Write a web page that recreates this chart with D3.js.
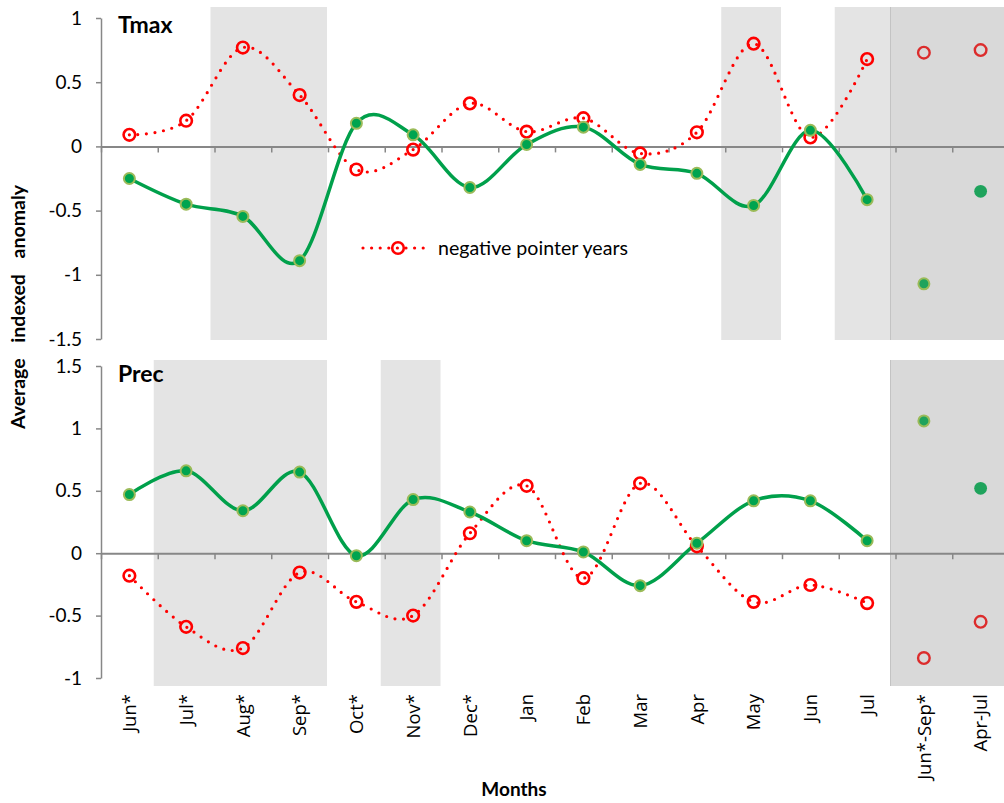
<!DOCTYPE html>
<html>
<head>
<meta charset="utf-8">
<script src="https://cdn.jsdelivr.net/npm/d3@7"></script>
<style>
  body { margin: 0; background: #fff; }
  svg { display: block; }
  text { font-family: Lato, "Open Sans", sans-serif; fill: #000; }
</style>
</head>
<body>
<svg id="chart" width="1004" height="803"></svg>
<script>
// Monthly categories (previous-year months marked with *) and the two seasonal summaries
const months = ["Jun*", "Jul*", "Aug*", "Sep*", "Oct*", "Nov*", "Dec*", "Jan", "Feb", "Mar", "Apr", "May", "Jun", "Jul"];
const periods = ["Jun*-Sep*", "Apr-Jul"];
const categories = months.concat(periods);

// Tmax: average indexed anomaly, all years (green) and negative pointer years (red)
const tmaxAll = [-0.25, -0.45, -0.545, -0.89, 0.18, 0.09, -0.32, 0.015, 0.15, -0.14, -0.21, -0.46, 0.125, -0.415];
const tmaxNegative = [0.09, 0.20, 0.77, 0.40, -0.18, -0.025, 0.335, 0.115, 0.22, -0.055, 0.11, 0.80, 0.07, 0.68];
const tmaxPeriodAll = [-1.07, -0.35];
const tmaxPeriodNegative = [0.73, 0.75];

// Prec: average indexed anomaly, all years (green) and negative pointer years (red)
const precAll = [0.47, 0.66, 0.34, 0.65, -0.02, 0.43, 0.33, 0.10, 0.01, -0.26, 0.08, 0.42, 0.42, 0.10];
const precNegative = [-0.18, -0.59, -0.76, -0.155, -0.39, -0.50, 0.16, 0.54, -0.20, 0.56, 0.055, -0.39, -0.255, -0.40];
const precPeriodAll = [1.06, 0.52];
const precPeriodNegative = [-0.84, -0.55];

// Axis ticks
const tmaxTicks = [-1.5, -1, -0.5, 0, 0.5, 1];
const precTicks = [-1, -0.5, 0, 0.5, 1, 1.5];

// Shaded month ranges (first, last)
const tmaxShading = [["Aug*", "Sep*"], ["May", "May"], ["Jul", "Jul"]];
const precShading = [["Jul*", "Sep*"], ["Nov*", "Nov*"]];

const legendLabel = "negative pointer years";
const yTitleWords = ["Average", "indexed", "anomaly"];

const svg = d3.select("#chart");

const x = d3.scaleBand().domain(categories).range([101, 101 + 16 * 56.75]).padding(0);
const bw = x.bandwidth();
const cx = c => x(c) + bw / 2;
const boundary = d3.scaleLinear().domain([0, categories.length]).range(x.range());

const GREEN_LINE = "#00a04b";
const GREEN_FILL = "#00a44f";
const GREEN_EDGE = "#9bbb59";
const RED = "#ff0000";
const RED_PERIOD = "#dc2c2c";
const AXIS = "#878787";

function drawPanel(cfg) {
  const y = d3.scaleLinear().domain(cfg.domain).range(cfg.range);
  const g = svg.append("g");

  // shaded month bands
  g.selectAll("rect.band")
    .data(cfg.shading)
    .join("rect")
    .attr("class", "band")
    .attr("x", d => x(d[0]) - 4)
    .attr("width", d => x(d[1]) + bw - 1 - (x(d[0]) - 4))
    .attr("y", cfg.bandTop)
    .attr("height", cfg.bandBottom - cfg.bandTop)
    .attr("fill", "#e4e4e4");

  // seasonal summary band
  const sx = x(periods[0]) - 5;
  g.append("rect")
    .attr("x", sx)
    .attr("width", 1004 - sx + 10)
    .attr("y", cfg.bandTop)
    .attr("height", cfg.bandBottom - cfg.bandTop)
    .attr("fill", "#d9d9d9");
  g.append("line")
    .attr("x1", sx).attr("x2", sx)
    .attr("y1", cfg.bandTop).attr("y2", cfg.bandBottom)
    .attr("stroke", "#c3c3c3").attr("stroke-width", 1);

  // y axis
  const yAxis = d3.axisLeft(y)
    .tickValues(cfg.ticks)
    .tickSize(5)
    .tickSizeOuter(0)
    .tickPadding(14)
    .tickFormat(d => String(d));
  const ya = g.append("g").attr("transform", "translate(101,0)").call(yAxis);
  ya.select(".domain").attr("stroke", AXIS).attr("stroke-width", 1.5);
  ya.selectAll(".tick line").attr("stroke", AXIS).attr("stroke-width", 1.5);
  ya.selectAll(".tick text")
    .style("font-family", "Lato, sans-serif")
    .style("font-size", "19px")
    .attr("fill", "#000");

  // zero line with category boundary ticks
  const xAxis = d3.axisBottom(boundary)
    .ticks(categories.length)
    .tickSize(6)
    .tickSizeOuter(0)
    .tickFormat("");
  const xa = g.append("g").attr("transform", `translate(0,${y(0)})`).call(xAxis);
  xa.select(".domain").attr("stroke", AXIS).attr("stroke-width", 2);
  xa.selectAll(".tick line").attr("stroke", AXIS).attr("stroke-width", 1.5);

  const line = d3.line()
    .x((d, i) => cx(months[i]))
    .y(d => y(d))
    .curve(d3.curveCatmullRom.alpha(0));

  // negative pointer years: dotted red curve
  g.append("path")
    .attr("d", line(cfg.negative))
    .attr("fill", "none")
    .attr("stroke", RED)
    .attr("stroke-width", 3.2)
    .attr("stroke-linecap", "round")
    .attr("stroke-dasharray", "0 8.6");

  // all years: solid green curve
  g.append("path")
    .attr("d", line(cfg.all))
    .attr("fill", "none")
    .attr("stroke", GREEN_LINE)
    .attr("stroke-width", 3.5);

  // red hollow markers
  g.selectAll("circle.neg")
    .data(cfg.negative)
    .join("circle")
    .attr("class", "neg")
    .attr("cx", (d, i) => cx(months[i]))
    .attr("cy", d => y(d))
    .attr("r", 5.8)
    .attr("fill", "none")
    .attr("stroke", RED)
    .attr("stroke-width", 2.6);

  g.selectAll("circle.negp")
    .data(cfg.periodNegative)
    .join("circle")
    .attr("class", "negp")
    .attr("cx", (d, i) => cx(periods[i]))
    .attr("cy", d => y(d))
    .attr("r", 5.8)
    .attr("fill", "none")
    .attr("stroke", RED_PERIOD)
    .attr("stroke-width", 2.4);

  // green filled markers
  g.selectAll("circle.all")
    .data(cfg.all)
    .join("circle")
    .attr("class", "all")
    .attr("cx", (d, i) => cx(months[i]))
    .attr("cy", d => y(d))
    .attr("r", 5.5)
    .attr("fill", GREEN_FILL)
    .attr("stroke", GREEN_EDGE)
    .attr("stroke-width", 2);

  g.selectAll("circle.allp")
    .data(cfg.periodAll)
    .join("circle")
    .attr("class", "allp")
    .attr("cx", (d, i) => cx(periods[i]))
    .attr("cy", d => y(d))
    .attr("r", (d, i) => i === 0 ? 5.5 : 6.4)
    .attr("fill", "#1fa35c")
    .attr("stroke", (d, i) => i === 0 ? GREEN_EDGE : "none")
    .attr("stroke-width", 2);

  // panel title
  g.append("text")
    .attr("x", 118)
    .attr("y", cfg.titleY)
    .style("font-weight", "bold")
    .style("font-size", "23px")
    .text(cfg.title);

  return y;
}

drawPanel({
  title: "Tmax", titleY: 33,
  domain: [-1.5, 1], range: [339, 18],
  bandTop: 7, bandBottom: 340,
  ticks: tmaxTicks, shading: tmaxShading,
  all: tmaxAll, negative: tmaxNegative,
  periodAll: tmaxPeriodAll, periodNegative: tmaxPeriodNegative
});

drawPanel({
  title: "Prec", titleY: 382,
  domain: [-1, 1.5], range: [678, 366],
  bandTop: 360, bandBottom: 686,
  ticks: precTicks, shading: precShading,
  all: precAll, negative: precNegative,
  periodAll: precPeriodAll, periodNegative: precPeriodNegative
});

// legend
const lg = svg.append("g").attr("transform", "translate(0,248)");
lg.append("line")
  .attr("x1", 363).attr("x2", 429).attr("y1", 0).attr("y2", 0)
  .attr("stroke", RED).attr("stroke-width", 3.2)
  .attr("stroke-linecap", "round").attr("stroke-dasharray", "0 8.6");
lg.append("circle")
  .attr("cx", 398).attr("cy", 0).attr("r", 5.8)
  .attr("fill", "none").attr("stroke", RED).attr("stroke-width", 2.6);
lg.append("text")
  .attr("x", 438).attr("y", 0).attr("dy", "0.35em")
  .style("font-size", "19.6px")
  .text(legendLabel);

// month labels
svg.append("g")
  .selectAll("text")
  .data(categories)
  .join("text")
  .attr("transform", d => `translate(${cx(d)},694) rotate(-90)`)
  .attr("text-anchor", "end")
  .attr("dy", "0.36em")
  .style("font-family", "'Open Sans', sans-serif")
  .style("font-size", "18.5px")
  .text(d => d);

// axis titles
svg.append("text")
  .attr("x", 514).attr("y", 796)
  .attr("text-anchor", "middle")
  .style("font-weight", "bold")
  .style("font-size", "19px")
  .text("Months");

svg.append("text")
  .attr("transform", "translate(25,307) rotate(-90)")
  .attr("text-anchor", "middle")
  .style("font-weight", "bold")
  .style("font-size", "19.5px")
  .style("word-spacing", "11px")
  .text(yTitleWords.join(" "));
</script>
</body>
</html>
